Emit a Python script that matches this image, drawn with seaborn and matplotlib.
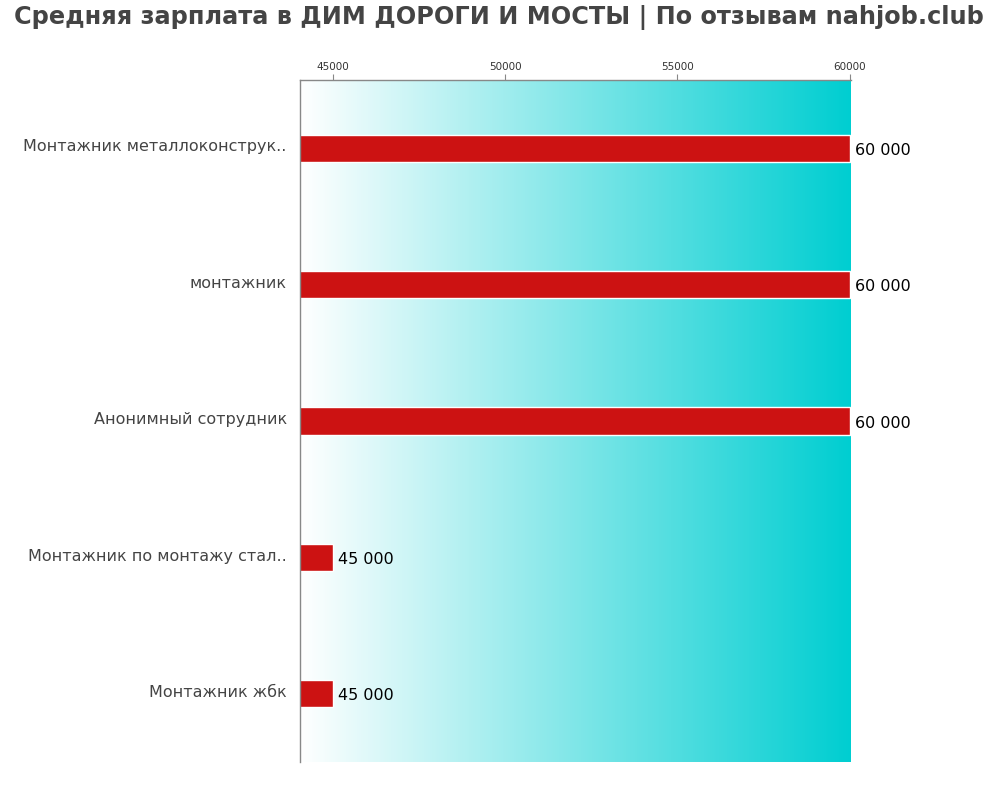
import matplotlib
matplotlib.use("Agg")
import matplotlib.pyplot as plt
import matplotlib.transforms as mtransforms
import seaborn as sns
import numpy as np
import pandas as pd
from matplotlib.colors import LinearSegmentedColormap

categories = ["Монтажник металлоконструк..", "монтажник", "Анонимный сотрудник",
              "Монтажник по монтажу стал..", "Монтажник жбк"]
salaries = [60000, 60000, 60000, 45000, 45000]
value_labels = ["60 000", "60 000", "60 000", "45 000", "45 000"]
tick_values = [45000, 50000, 55000, 60000]
title = "Средняя зарплата в ДИМ ДОРОГИ И МОСТЫ | По отзывам nahjob.club"

sns.set_style("white")
plt.rcParams['font.family'] = ['DejaVu Sans']

df = pd.DataFrame({"cat": categories, "val": salaries})

fig = plt.figure(figsize=(10, 8), dpi=100)
ax = fig.add_axes([0.300, 0.0475, 0.551, 0.8525])

xmin, xmax = 44040, 60040
cmap = LinearSegmentedColormap.from_list("g", ["#ffffff", "#00CED1"])
grad = np.linspace(0, 1, 256).reshape(1, -1)
ax.imshow(grad, cmap=cmap, aspect="auto", extent=[xmin, xmax, 4.5, -0.5], zorder=0)

sns.barplot(data=df, x="val", y="cat", orient="h", color="#CC1212", width=0.2,
            edgecolor="white", linewidth=1, ax=ax, zorder=2, saturation=1)

ax.set_xlim(xmin, xmax)
ax.set_ylim(4.5, -0.5)
ax.xaxis.tick_top()
ax.set_xticks(tick_values)
ax.set_xticklabels([str(t) for t in tick_values], fontsize=7.5, color="#333333")
ax.tick_params(axis="x", length=4, color="#888888", pad=2, top=True, bottom=False)
ax.tick_params(axis="y", length=0, labelsize=11.5, labelcolor="#444444", pad=9.5)
up = mtransforms.ScaledTranslation(0, 2 / 72, fig.dpi_scale_trans)
for lbl in ax.get_yticklabels():
    lbl.set_transform(lbl.get_transform() + up)
ax.set_xlabel("")
ax.set_ylabel("")
for s in ["right", "bottom"]:
    ax.spines[s].set_visible(False)
for s in ["left", "top"]:
    ax.spines[s].set_color("#888888")
    ax.spines[s].set_linewidth(1)

down = mtransforms.ScaledTranslation(0, -1.5 / 72, fig.dpi_scale_trans)
for i, (v, lab) in enumerate(zip(salaries, value_labels)):
    ax.text(v + 150, i, lab, va="center", ha="left", fontsize=11.5, color="black",
            transform=ax.transData + down)

fig.text(0.4985, 0.978, title, ha="center", va="center", fontsize=17.3, fontweight="bold",
         color="#444444")

fig.savefig("out.png", dpi=100)
